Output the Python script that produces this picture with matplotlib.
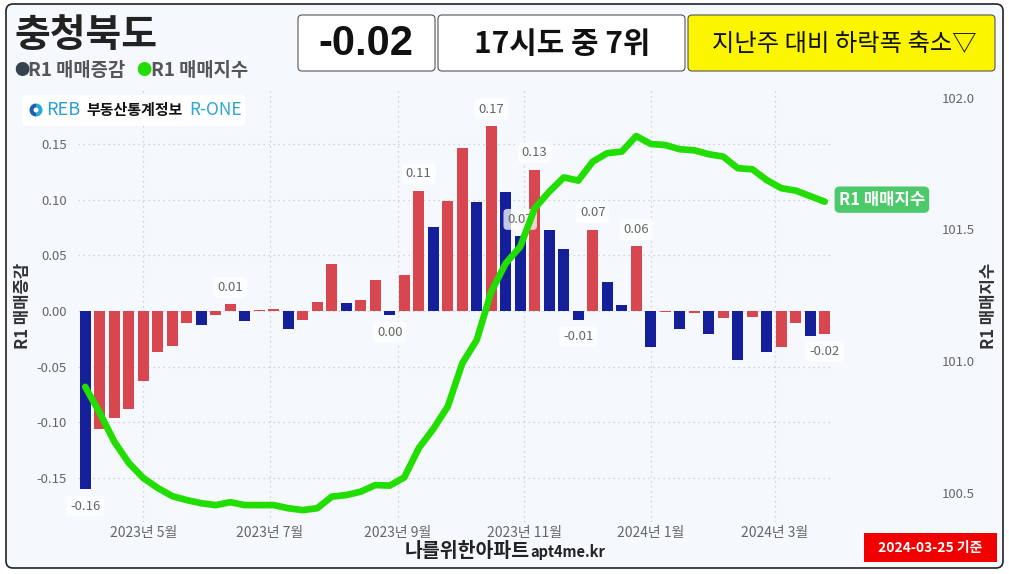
import matplotlib
matplotlib.use("Agg")
import matplotlib.pyplot as plt
import matplotlib.dates as mdates
import matplotlib.ticker as mticker
from matplotlib.patches import FancyBboxPatch, Rectangle, Wedge, Circle
import pandas as pd

W, H = 1009, 574

region = "충청북도"
last_date = "2024-03-25"
rank_text = "17시도 중 7위"
trend_text = "지난주 대비 하락폭 축소▽"

# 주간 매매증감 (%)
weekly_change = [
    -0.160, -0.106, -0.096, -0.088, -0.063, -0.037, -0.031, -0.011, -0.013, -0.004,
    0.006, -0.009, 0.001, 0.002, -0.016, -0.008, 0.008, 0.042, 0.007, 0.010,
    0.028, -0.004, 0.032, 0.108, 0.075, 0.099, 0.146, 0.098, 0.166, 0.107,
    0.067, 0.127, 0.073, 0.056, -0.008, 0.073, 0.026, 0.005, 0.058, -0.032,
    -0.001, -0.016, -0.002, -0.021, -0.006, -0.044, -0.005, -0.037, -0.032, -0.011,
    -0.022, -0.021,
]

# 매매지수
price_index = [
    100.902, 100.803, 100.694, 100.613, 100.556, 100.518, 100.487, 100.472, 100.460, 100.453,
    100.464, 100.453, 100.453, 100.453, 100.441, 100.434, 100.441, 100.485, 100.491, 100.504,
    100.529, 100.527, 100.558, 100.669, 100.742, 100.827, 100.991, 101.080, 101.263, 101.371,
    101.434, 101.580, 101.643, 101.697, 101.685, 101.757, 101.789, 101.795, 101.854, 101.824,
    101.820, 101.804, 101.800, 101.785, 101.776, 101.732, 101.728, 101.687, 101.656, 101.647,
    101.626, 101.605,
]

# 값 표시할 주차 (0부터)
label_weeks = [0, 10, 21, 23, 28, 30, 31, 34, 35, 38, 51]

left_ticks = [-0.15, -0.10, -0.05, 0.00, 0.05, 0.10, 0.15]
right_ticks = [100.5, 101.0, 101.5, 102.0]

RED = "#d8464f"
BLUE = "#141f99"
GREEN = "#22dd00"

plt.rcParams["font.family"] = ["Noto Sans CJK KR", "DejaVu Sans"]

dates = pd.date_range(end=last_date, periods=len(weekly_change), freq="7D")
colors = [BLUE] + [RED if weekly_change[i] > weekly_change[i - 1] else BLUE
                   for i in range(1, len(weekly_change))]


def fx(x):
    return x / W


def fy(y):
    return 1 - y / H


def rbox(fig, x0, y0, x1, y1, fc, ec, lw=0.8, r=0.04, z=0):
    p = FancyBboxPatch((x0 / 100, (H - y1) / 100), (x1 - x0) / 100, (y1 - y0) / 100,
                       boxstyle="round,pad=0,rounding_size=%g" % r,
                       transform=fig.dpi_scale_trans, fc=fc, ec=ec, lw=lw, zorder=z)
    fig.patches.append(p)


fig = plt.figure(figsize=(W / 100, H / 100), dpi=100, facecolor="white")
rbox(fig, 6, 4, 1003, 568, "#f5f8fc", "#222222", lw=1.2, r=0.07, z=-10)

# 상단 박스
rbox(fig, 298, 15, 435, 71, "white", "#555555")
rbox(fig, 438, 15, 685, 71, "white", "#555555")
rbox(fig, 688, 15, 995, 71, "#fcf500", "#555555")
fig.text(fx(366), fy(44), f"{weekly_change[-1]:.2f}", fontsize=30, fontweight="bold",
         family=["Liberation Sans", "DejaVu Sans"], ha="center", va="center", color="#111")
fig.text(fx(562), fy(44), rank_text, fontsize=21.5, fontweight="bold",
         ha="center", va="center", color="#111")
fig.text(fx(844), fy(44), trend_text, fontsize=17.5, ha="center", va="center", color="#111")

# 제목, 범례
fig.text(fx(14), fy(36), region, fontsize=28, fontweight="bold", ha="left", va="center", color="#222")
fig.text(fx(14), fy(70), "●", fontsize=11, color="#37424f", ha="left", va="center")
fig.text(fx(28), fy(70), "R1 매매증감", fontsize=13.5, fontweight="bold", color="#555", ha="left", va="center")
fig.text(fx(136), fy(70), "●", fontsize=11, color=GREEN, ha="left", va="center")
fig.text(fx(151), fy(70), "R1 매매지수", fontsize=13.5, fontweight="bold", color="#555", ha="left", va="center")

# 로고
rbox(fig, 22, 95, 245, 126, "white", "none", r=0.03)
fig.patches.append(Wedge((36 / 100, (H - 110) / 100), 0.065, 90, 270, fc="#1d5fa8",
                         transform=fig.dpi_scale_trans))
fig.patches.append(Wedge((36 / 100, (H - 110) / 100), 0.065, 270, 90, fc="#27a9d6",
                         transform=fig.dpi_scale_trans))
fig.patches.append(Circle((36 / 100, (H - 110) / 100), 0.025, fc="white",
                          transform=fig.dpi_scale_trans))
fig.text(fx(46), fy(110), "REB", fontsize=13, color="#2a9fd6", ha="left", va="center")
fig.text(fx(86), fy(110), "부동산통계정보", fontsize=10.8, fontweight="bold", color="#111",
         ha="left", va="center")
fig.text(fx(189), fy(110), "R-ONE", fontsize=12.5, color="#2aa6d9", ha="left", va="center")

# 메인 차트
ax = fig.add_axes([fx(78), fy(522), (832 - 78) / W, (522 - 90) / H])
ax.set_facecolor("none")
ax.bar(dates, weekly_change, width=5.5, color=colors, zorder=2)
ax.set_xlim(dates[0] - pd.Timedelta(days=3.5), dates[-1] + pd.Timedelta(days=3.5))
ax.set_ylim(-0.1894, 0.1984)
ax.set_yticks(left_ticks)
ax.yaxis.set_major_formatter(mticker.FuncFormatter(lambda v, p: f"{v:.2f}"))
ax.xaxis.set_major_locator(mdates.MonthLocator(bymonth=[1, 3, 5, 7, 9, 11]))
ax.xaxis.set_major_formatter(mticker.FuncFormatter(
    lambda v, p: f"{mdates.num2date(v).year}년 {mdates.num2date(v).month}월"))
ax.tick_params(axis="both", length=0, labelsize=9.5, labelcolor="#666")
ax.tick_params(axis="x", labelsize=10)
ax.tick_params(axis="y", pad=8)
ax.tick_params(axis="x", pad=3)
ax.grid(True, linestyle=(0, (1, 3)), color="#c4c9d0", lw=0.9, zorder=0)
for s in ax.spines.values():
    s.set_visible(False)
ax.set_ylabel("R1 매매증감", fontsize=12, fontweight="bold", color="#333", labelpad=3)

for i in label_weeks:
    v = weekly_change[i]
    txt = f"{v:.2f}".replace("-0.00", "0.00")
    off = 17 if v > 0 else -17
    base = v if abs(v) > 0.002 else 0
    ax.annotate(txt, (dates[i], base), xytext=(0, off), textcoords="offset pixels",
                ha="center", va="center", fontsize=9.5, color="#666", zorder=3,
                bbox=dict(boxstyle="round,pad=0.3", fc="white", ec="none", alpha=0.75))

ax2 = ax.twinx()
ax2.plot(dates, price_index, color=GREEN, lw=4.8, solid_capstyle="round",
         solid_joinstyle="round", zorder=4)
ax2.set_ylim(100.3888, 102.0289)
ax2.set_yticks(right_ticks)
ax2.yaxis.set_major_formatter(mticker.FuncFormatter(lambda v, p: f"{v:.1f}"))
ax2.tick_params(axis="y", length=0, labelsize=9.5, labelcolor="#666", pad=79)
for s in ax2.spines.values():
    s.set_visible(False)
ax2.set_ylabel("R1 매매지수", fontsize=12, fontweight="bold", color="#333", labelpad=4)
ax2.annotate("R1 매매지수", (dates[-1], price_index[-1]), xytext=(14, 2),
             textcoords="offset pixels", ha="left", va="center", fontsize=12,
             fontweight="bold", color="white", annotation_clip=False,
             bbox=dict(boxstyle="round,pad=0.25,rounding_size=0.3", fc="#4cc96a", ec="none"))

# 하단 텍스트
fig.text(fx(530), fy(557), "나를위한아파트", fontsize=14, fontweight="bold", color="#222",
         ha="right", va="baseline")
fig.text(fx(530), fy(557), "apt4me.kr", fontsize=10.5, fontweight="bold", color="#222",
         ha="left", va="baseline")

fig.patches.append(Rectangle((864 / 100, (H - 562) / 100), 133 / 100, 29 / 100,
                             fc="#f00000", ec="none", transform=fig.dpi_scale_trans))
fig.text(fx(930), fy(548), f"{last_date} 기준", fontsize=10, fontweight="bold",
         color="white", ha="center", va="center")

fig.savefig("out.png", dpi=100, facecolor="white")
